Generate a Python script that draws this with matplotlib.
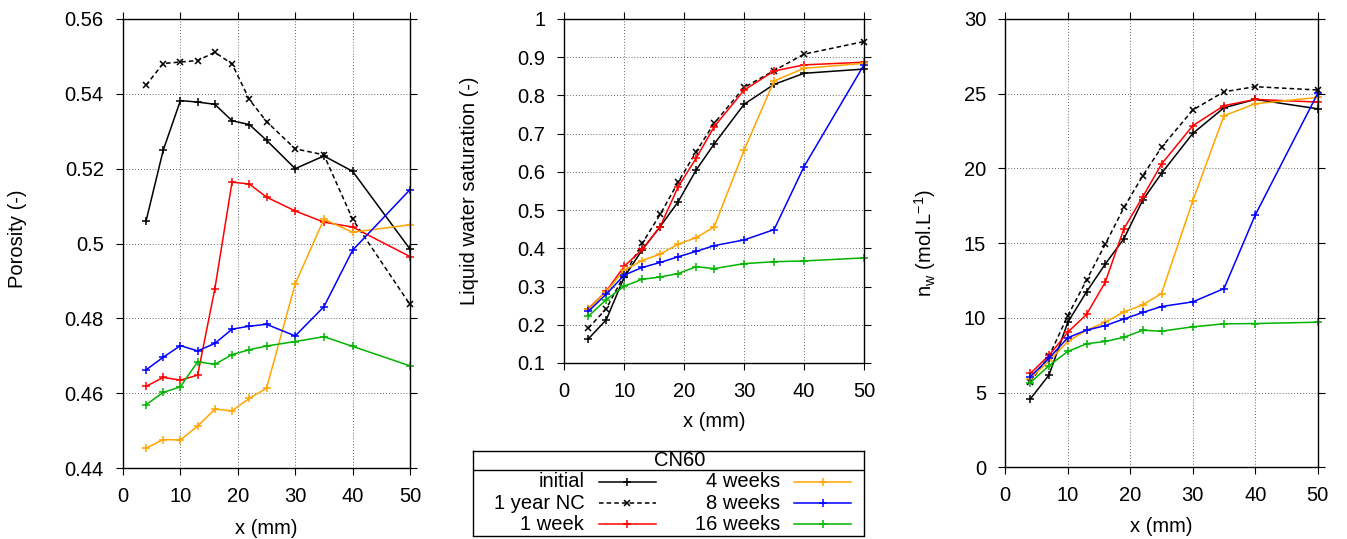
import matplotlib
matplotlib.use('Agg')
import matplotlib.pyplot as plt
from matplotlib.ticker import MultipleLocator, FormatStrFormatter

# depth of the sampling points (mm)
x = [4, 7, 10, 13, 16, 19, 22, 25, 30, 35, 40, 50]

labels = ['initial', '1 year NC', '1 week', '4 weeks', '8 weeks', '16 weeks']
colors = ['black', 'black', '#ff0000', '#ffa500', '#0000ff', '#00b400']

# porosity (-)
por_initial = [0.5059, 0.5249, 0.5382, 0.5378, 0.5372, 0.5328, 0.5318, 0.5276, 0.5200, 0.5234, 0.5193, 0.4985]
por_nc      = [0.5423, 0.5481, 0.5485, 0.5489, 0.5511, 0.5480, 0.5385, 0.5326, 0.5253, 0.5237, 0.5065, 0.4837]
por_1w      = [0.4618, 0.4642, 0.4635, 0.4648, 0.4879, 0.5164, 0.5159, 0.5124, 0.5087, 0.5057, 0.5044, 0.4965]
por_4w      = [0.4453, 0.4476, 0.4475, 0.4512, 0.4557, 0.4553, 0.4586, 0.4613, 0.4892, 0.5065, 0.5030, 0.5050]
por_8w      = [0.4662, 0.4696, 0.4727, 0.4713, 0.4733, 0.4771, 0.4779, 0.4784, 0.4753, 0.4831, 0.4982, 0.5144]
por_16w     = [0.4569, 0.4602, 0.4617, 0.4684, 0.4677, 0.4703, 0.4716, 0.4726, 0.4738, 0.4751, 0.4725, 0.4673]

# liquid water saturation (-)
sat_initial = [0.163, 0.213, 0.325, 0.396, 0.457, 0.522, 0.605, 0.673, 0.777, 0.829, 0.858, 0.869]
sat_nc      = [0.191, 0.242, 0.330, 0.413, 0.489, 0.573, 0.653, 0.727, 0.821, 0.865, 0.908, 0.941]
sat_1w      = [0.242, 0.288, 0.353, 0.397, 0.457, 0.561, 0.636, 0.718, 0.814, 0.864, 0.880, 0.887]
sat_4w      = [0.240, 0.287, 0.343, 0.368, 0.385, 0.411, 0.428, 0.456, 0.657, 0.838, 0.871, 0.884]
sat_8w      = [0.235, 0.280, 0.330, 0.350, 0.363, 0.378, 0.392, 0.407, 0.422, 0.449, 0.614, 0.880]
sat_16w     = [0.222, 0.266, 0.301, 0.319, 0.325, 0.334, 0.352, 0.347, 0.360, 0.365, 0.367, 0.375]

# water content n_w (mol/L)
nw_initial = [4.57, 6.18, 9.70, 11.74, 13.60, 15.31, 17.88, 19.67, 22.34, 24.06, 24.62, 23.99]
nw_nc      = [5.72, 7.43, 10.15, 12.52, 14.93, 17.39, 19.51, 21.41, 23.91, 25.13, 25.47, 25.25]
nw_1w      = [6.28, 7.49, 9.04, 10.23, 12.39, 15.98, 18.10, 20.29, 22.86, 24.20, 24.62, 24.44]
nw_4w      = [5.93, 7.12, 8.42, 9.17, 9.71, 10.40, 10.87, 11.63, 17.83, 23.53, 24.33, 24.75]
nw_8w      = [6.06, 7.30, 8.67, 9.18, 9.48, 9.93, 10.36, 10.76, 11.07, 11.96, 16.88, 25.02]
nw_16w     = [5.66, 6.81, 7.75, 8.27, 8.42, 8.70, 9.17, 9.11, 9.40, 9.60, 9.62, 9.71]

porosity = [por_initial, por_nc, por_1w, por_4w, por_8w, por_16w]
saturation = [sat_initial, sat_nc, sat_1w, sat_4w, sat_8w, sat_16w]
nw = [nw_initial, nw_nc, nw_1w, nw_4w, nw_8w, nw_16w]

plt.rcParams['font.family'] = ['Liberation Sans', 'DejaVu Sans']
plt.rcParams['font.size'] = 14.5
plt.rcParams['mathtext.fontset'] = 'custom'
plt.rcParams['mathtext.rm'] = 'Liberation Sans'
plt.rcParams['mathtext.it'] = 'Liberation Sans:italic'

W, H = 1347, 539
fig = plt.figure(figsize=(W / 100, H / 100), dpi=100)

MS_PLUS = 6
MS_X = 5


def px_axes(left, right, top, bottom):
    return fig.add_axes([left / W, 1 - bottom / H, (right - left) / W, (bottom - top) / H])


def style(ax, ymin, ymax, ystep, fmt):
    ax.set_xlim(0, 50)
    ax.set_ylim(ymin, ymax)
    ax.xaxis.set_major_locator(MultipleLocator(10))
    ax.yaxis.set_major_locator(MultipleLocator(ystep))
    ax.yaxis.set_major_formatter(FormatStrFormatter(fmt))
    ax.tick_params(direction='out', length=4.8, width=0.8, top=True, right=True)
    ax.tick_params(axis='x', pad=9)
    ax.tick_params(axis='y', pad=9)
    ax.grid(True, color='#333333', linewidth=0.6, linestyle=(0, (1, 2.5)))
    for s in ax.spines.values():
        s.set_linewidth(1.0)


def draw(ax, data):
    for i, ys in enumerate(data):
        if i == 1:
            ax.plot(x, ys, color=colors[i], linestyle=(0, (3, 2)), linewidth=1.1,
                    marker='x', markersize=MS_X, markeredgewidth=1.1, clip_on=False)
        else:
            ax.plot(x, ys, color=colors[i], linewidth=1.1,
                    marker='+', markersize=MS_PLUS, markeredgewidth=1.1, clip_on=False)


ax1 = px_axes(123, 410, 19, 468)
draw(ax1, porosity)
style(ax1, 0.44, 0.56, 0.02, '%g')
ax1.set_ylabel('Porosity (-)', va='center')
ax1.yaxis.set_label_coords(-0.366, 0.51)
ax1.set_xlabel('x (mm)', va='center')
ax1.xaxis.set_label_coords(0.5, -0.134)

ax2 = px_axes(564.3, 864, 19, 363)
draw(ax2, saturation)
style(ax2, 0.1, 1.0, 0.1, '%g')
ax2.set_ylabel('Liquid water saturation (-)', va='center')
ax2.yaxis.set_label_coords(-0.315, 0.5)
ax2.set_xlabel('x (mm)', va='center')
ax2.xaxis.set_label_coords(0.5, -0.171)

ax3 = px_axes(1005.3, 1317.7, 19, 467.3)
draw(ax3, nw)
style(ax3, 0, 30, 5, '%g')
ax3.set_ylabel(r'n$_\mathrm{w}$ (mol.L$^{-1}$)', va='center')
ax3.yaxis.set_label_coords(-0.257, 0.5)
ax3.set_xlabel('x (mm)', va='center')
ax3.xaxis.set_label_coords(0.5, -0.133)

# gnuplot-style legend box, in pixel coordinates
lx0, lx1, ly0, ly1 = 473, 864, 450.7, 535.5
lg = px_axes(lx0, lx1, ly0, ly1)
lg.set_xlim(lx0, lx1)
lg.set_ylim(ly1, ly0)
lg.set_xticks([])
lg.set_yticks([])
for s in lg.spines.values():
    s.set_linewidth(1.0)
lg.text(680, 461, 'CN60', ha='center', va='center')
lg.plot([lx0, lx1], [470.5, 470.5], color='black', linewidth=1.0)
rows = [481.7, 503.3, 524.3]
cols = [(584.3, 599, 655.7), (780, 794.3, 851)]
for i, lab in enumerate(labels):
    tx, a, b = cols[i // 3]
    yy = rows[i % 3]
    lg.text(tx, yy, lab, ha='right', va='center')
    if i == 1:
        lg.plot([a, b], [yy, yy], color=colors[i], linestyle=(0, (3, 2)), linewidth=1.1)
        lg.plot([(a + b) / 2], [yy], color=colors[i], marker='x', markersize=MS_X, markeredgewidth=1.1)
    else:
        lg.plot([a, b], [yy, yy], color=colors[i], linewidth=1.1)
        lg.plot([(a + b) / 2], [yy], color=colors[i], marker='+', markersize=MS_PLUS, markeredgewidth=1.1)

fig.savefig('out.png', dpi=100)
